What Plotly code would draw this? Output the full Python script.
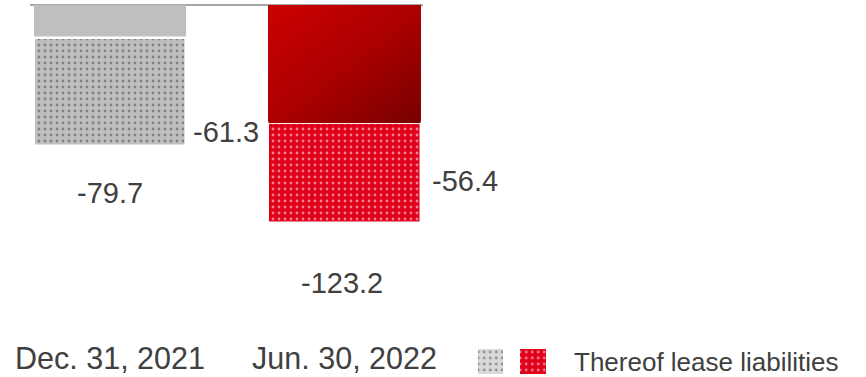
import base64
import plotly.graph_objects as go

# Financial liabilities (EUR m), total and thereof lease liabilities
categories = ["Dec. 31, 2021", "Jun. 30, 2022"]
totals = [-79.7, -123.2]
lease = [-61.3, -56.4]
other = [round(t - l, 1) for t, l in zip(totals, lease)]
legend_label = "Thereof lease liabilities"

TEXT = "#404040"
FONT = "Liberation Sans, Arial, sans-serif"
GREY = "#bfbfbf"
RED = "#e1001a"
BAR_W = 0.65
DOTS = dict(shape=".", fgcolor="white", size=6, solidity=0.17, fillmode="overlay")

x = list(range(len(categories)))

fig = go.Figure()

# solid upper segments (remaining liabilities)
fig.add_trace(go.Bar(
    x=x, y=other, width=BAR_W,
    marker=dict(color=[GREY, "#a80000"], line=dict(width=0)),
    hoverinfo="skip", showlegend=False,
))
# dotted lower segments (lease liabilities)
fig.add_trace(go.Bar(
    x=x, y=lease, base=other, width=BAR_W,
    marker=dict(color=[GREY, RED], line=dict(color="white", width=2.5),
                pattern=DOTS),
    hoverinfo="skip", showlegend=False,
))

# diagonal red gradient for the 2022 solid segment
svg = (
    '<svg xmlns="http://www.w3.org/2000/svg" width="100" height="100" '
    'viewBox="0 0 100 100" preserveAspectRatio="none">'
    '<defs><linearGradient id="g" x1="0" y1="0" x2="1" y2="1">'
    '<stop offset="0" stop-color="#cc0000"/>'
    '<stop offset="0.5" stop-color="#ac0000"/>'
    '<stop offset="1" stop-color="#770000"/>'
    '</linearGradient></defs>'
    '<rect width="100" height="100" fill="url(#g)"/></svg>'
)
svg_uri = "data:image/svg+xml;base64," + base64.b64encode(svg.encode()).decode()
fig.add_layout_image(
    source=svg_uri, xref="x", yref="y",
    x=x[1] - BAR_W / 2, y=0, sizex=BAR_W, sizey=-other[1],
    xanchor="left", yanchor="top", sizing="stretch", layer="above",
)

# legend swatches
fig.add_trace(go.Bar(
    x=[0, 1], y=[1, 1], width=0.6, xaxis="x2", yaxis="y2",
    marker=dict(color=["#d9d9d9", RED], line=dict(width=0), pattern=DOTS),
    hoverinfo="skip", showlegend=False,
))

ann = []
def label(xv, yv, txt, xs=0, ys=0):
    ann.append(dict(x=xv, y=yv, xref="x", yref="y", text=txt, showarrow=False,
                    xshift=xs, yshift=ys, xanchor="center", yanchor="middle",
                    font=dict(size=29, color=TEXT, family=FONT)))

# total labels under each column
label(x[0], totals[0], f"{totals[0]:.1f}", xs=0, ys=-47)
label(x[1], totals[1], f"{totals[1]:.1f}", xs=-3, ys=-60)
# lease labels beside the dotted segments
label(x[0], other[0] + lease[0] / 2, f"{lease[0]:.1f}", xs=116, ys=-40)
label(x[1], other[1] + lease[1] / 2, f"{lease[1]:.1f}", xs=120, ys=-8)

ann.append(dict(x=572 / 866, y=(377 - 362) / 377, xref="paper", yref="paper",
                text=legend_label, showarrow=False, xanchor="left",
                yanchor="middle", font=dict(size=26, color=TEXT, family=FONT)))

fig.update_layout(
    template="none",
    width=866, height=377,
    margin=dict(l=0, r=0, t=0, b=0, pad=0),
    paper_bgcolor="white", plot_bgcolor="white",
    font=dict(family=FONT, color=TEXT),
    barmode="overlay", bargap=0,
    annotations=ann,
    xaxis=dict(
        domain=[30 / 866, 423 / 866],
        range=[(30 - 110) / 234.5, (423 - 110) / 234.5],
        tickvals=x, ticktext=categories, ticks="", ticklen=0,
        tickfont=dict(size=30.5, color=TEXT, family=FONT),
        ticklabelstandoff=-3, automargin=False,
        showgrid=False, zeroline=False, showline=False, fixedrange=True,
    ),
    yaxis=dict(
        domain=[37 / 377, 1],
        range=[-(340 - 5) / 1.7695, 5 / 1.7695],
        showticklabels=False, showgrid=False, automargin=False,
        zeroline=True, zerolinecolor="#a6a6a6", zerolinewidth=2,
        showline=False, fixedrange=True,
    ),
    xaxis2=dict(domain=[469.25 / 866, 554.25 / 866], range=[-0.5, 1.5],
                anchor="y2", visible=False, fixedrange=True),
    yaxis2=dict(domain=[3 / 377, 28 / 377], range=[0, 1],
                anchor="x2", visible=False, fixedrange=True),
)

fig.write_html("out.html")
